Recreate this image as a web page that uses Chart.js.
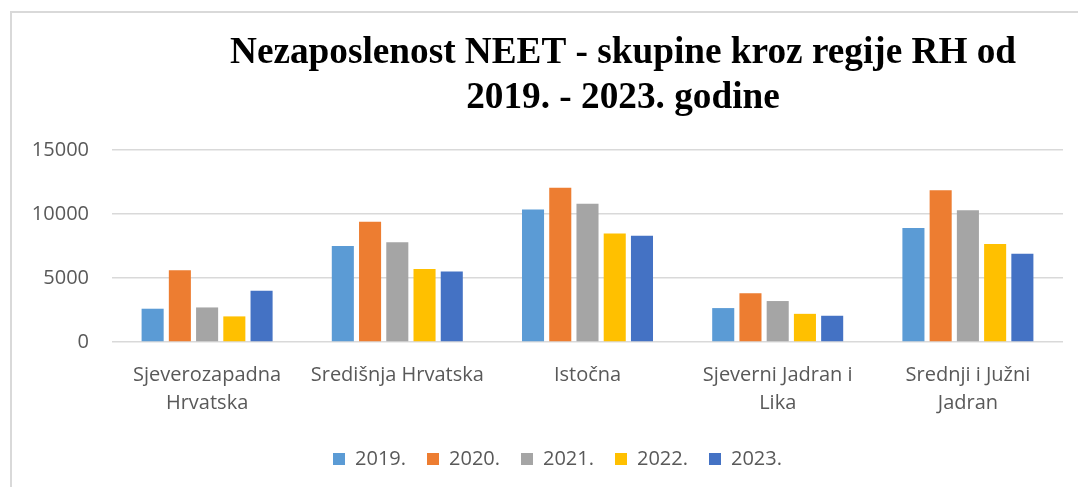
<!DOCTYPE html>
<html>
<head>
<meta charset="utf-8">
<script src="https://cdn.jsdelivr.net/npm/chart.js@4/dist/chart.umd.min.js"></script>
<style>
  html, body { margin: 0; padding: 0; background: #fff; overflow: hidden; }
  #frame {
    position: absolute; left: 10px; top: 11px; width: 1200px; height: 600px;
    border: 2px solid #d9d9d9; box-sizing: border-box;
  }
  #wrap { position: absolute; left: 0; top: 0; width: 1078px; height: 487px; }
</style>
</head>
<body>
<div id="frame"></div>
<div id="wrap"><canvas id="neetChart" width="1078" height="487"></canvas></div>
<script>
const regions = [
  ["Sjeverozapadna", "Hrvatska"],
  ["Središnja Hrvatska"],
  ["Istočna"],
  ["Sjeverni Jadran i", "Lika"],
  ["Srednji i Južni", "Jadran"],
];
const years = ["2019.", "2020.", "2021.", "2022.", "2023."];
const values2019 = [2600, 7500, 10350, 2650, 8900];
const values2020 = [5600, 9400, 12050, 3800, 11850];
const values2021 = [2700, 7800, 10800, 3200, 10300];
const values2022 = [2000, 5700, 8480, 2200, 7650];
const values2023 = [4000, 5500, 8300, 2050, 6900];
const yTicks = [0, 5000, 10000, 15000];
const titleLines = [
  "Nezaposlenost NEET - skupine kroz regije RH od",
  "2019. - 2023. godine",
];

const colors = ["#5b9bd5", "#ed7d31", "#a5a5a5", "#ffc000", "#4472c4"];
const seriesValues = [values2019, values2020, values2021, values2022, values2023];

// title drawn by hand: in the original it sits right of the chart centre
const titlePlugin = {
  id: "wordTitle",
  afterDraw(chart) {
    const ctx = chart.ctx;
    ctx.save();
    ctx.font = 'bold 38px "Liberation Serif"';
    ctx.fillStyle = "#000";
    ctx.textAlign = "center";
    ctx.textBaseline = "alphabetic";
    const sx = 786 / ctx.measureText(titleLines[0]).width;
    [63, 108].forEach((y, i) => {
      ctx.save();
      ctx.translate(623, y);
      ctx.scale(sx, 1);
      ctx.fillText(titleLines[i], 0, 0);
      ctx.restore();
    });
    ctx.restore();
  },
};

// the legend row in the original is a bit right of the canvas centre
const legendShift = {
  id: "legendShift",
  afterLayout(chart) {
    chart.legend.left += 11;
    chart.legend.right += 11;
  },
};

const datasets = years.map((year, i) => ({
  label: year,
  data: seriesValues[i],
  backgroundColor: colors[i],
  categoryPercentage: 0.716,
  barPercentage: 0.81,
}));

new Chart(document.getElementById("neetChart"), {
  type: "bar",
  data: { labels: regions, datasets: datasets },
  plugins: [titlePlugin, legendShift],
  options: {
    responsive: false,
    animation: false,
    layout: { padding: { top: 150, left: 30, right: 15, bottom: 8 } },
    plugins: {
      title: { display: false },
      tooltip: { enabled: false },
      legend: {
        position: "bottom",
        labels: {
          boxWidth: 12,
          boxHeight: 12,
          padding: 21,
          color: "#595959",
          font: { family: "Open Sans", size: 20 },
        },
      },
    },
    scales: {
      x: {
        grid: { display: false },
        border: { display: false },
        ticks: {
          color: "#595959",
          font: { family: "Open Sans", size: 20, lineHeight: 1.4 },
          maxRotation: 0,
          autoSkip: false,
          padding: 11,
        },
      },
      y: {
        min: 0,
        max: 15000,
        afterBuildTicks: (axis) => { axis.ticks = yTicks.map((v) => ({ value: v })); },
        afterFit: (axis) => { axis.width = 82; },
        grid: { color: "#d9d9d9", lineWidth: 1.5, drawTicks: false },
        border: { display: false },
        ticks: {
          color: "#595959",
          font: { family: "Open Sans", size: 20 },
          padding: 23,
          callback: (v) => String(v),
        },
      },
    },
  },
});
</script>
</body>
</html>
